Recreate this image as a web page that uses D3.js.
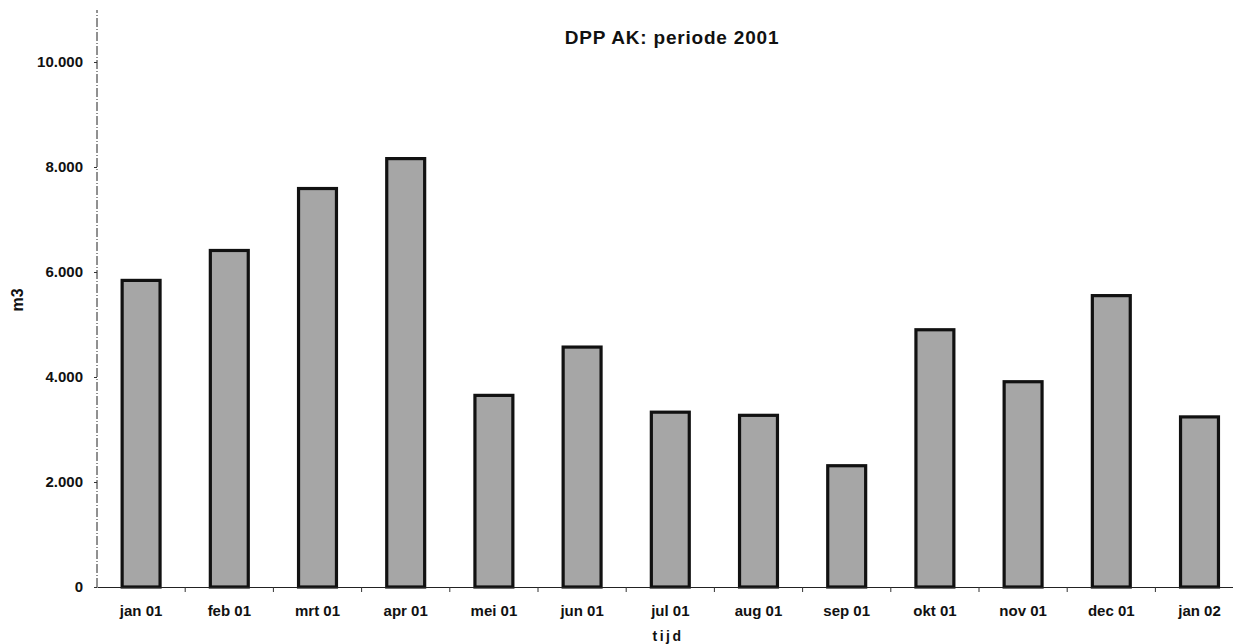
<!DOCTYPE html>
<html>
<head>
<meta charset="utf-8">
<script src="https://cdn.jsdelivr.net/npm/d3@7"></script>
<style>
  body { margin: 0; background: #fff; }
  text { font-family: "Liberation Sans", Arial, sans-serif; fill: #111; }
</style>
</head>
<body>
<div id="div_bar"></div>
<script>
// chart data
var months = ["jan 01", "feb 01", "mrt 01", "apr 01", "mei 01", "jun 01", "jul 01",
              "aug 01", "sep 01", "okt 01", "nov 01", "dec 01", "jan 02"];
var volumes = [5840, 6410, 7590, 8160, 3650, 4570, 3330, 3270, 2310, 4900, 3910, 5550, 3240];
var yTicks = [0, 2000, 4000, 6000, 8000, 10000];
var yTickLabels = ["0", "2.000", "4.000", "6.000", "8.000", "10.000"];

var data = months.map(function(m, i) { return {group: m, value: volumes[i]}; });

// set the dimensions and margins of the graph
var W = 1233, H = 644;
var margin = {top: 62, left: 97, bottom: 57};
var plotBottom = H - margin.bottom;

var svg = d3.select("#div_bar")
  .append("svg")
  .attr("id", "svg_bar")
  .attr("width", W)
  .attr("height", H);

// X axis (runs past the right edge, as in the scan)
var x = d3.scaleBand()
  .range([margin.left, margin.left + 13 * 88.2])
  .domain(months)
  .paddingInner(0.57)
  .paddingOuter(0.285);

// Y axis
var y = d3.scaleLinear()
  .domain([0, 10000])
  .range([plotBottom, margin.top]);

// bars
svg.selectAll("rect.bar")
  .data(data)
  .enter()
  .append("rect")
  .attr("class", "bar")
  .attr("x", function(d) { return x(d.group); })
  .attr("y", function(d) { return y(d.value); })
  .attr("width", x.bandwidth())
  .attr("height", function(d) { return plotBottom - y(d.value); })
  .attr("fill", "#a6a6a6")
  .attr("stroke", "#111")
  .attr("stroke-width", 3.2);

// bottom axis
var xAxis = svg.append("g")
  .attr("transform", "translate(0," + plotBottom + ")")
  .call(d3.axisBottom(x).tickSize(0).tickPadding(18));
xAxis.select(".domain").attr("stroke", "#222").attr("stroke-width", 1.2);
xAxis.selectAll("text")
  .attr("font-size", "15px")
  .attr("font-weight", "bold")
  .attr("fill", "#111");
// small ticks between the categories
xAxis.selectAll("line.sep")
  .data(months.slice(1))
  .enter()
  .append("line")
  .attr("class", "sep")
  .attr("x1", function(d) { return x(d) + x.bandwidth() / 2 - x.step() / 2; })
  .attr("x2", function(d) { return x(d) + x.bandwidth() / 2 - x.step() / 2; })
  .attr("y1", 0)
  .attr("y2", 5)
  .attr("stroke", "#333")
  .attr("stroke-width", 1);

// left axis
var yAxis = svg.append("g")
  .attr("transform", "translate(" + margin.left + ",0)")
  .call(d3.axisLeft(y).tickValues(yTicks)
    .tickFormat(function(d, i) { return yTickLabels[i]; })
    .tickSize(3).tickPadding(11));
yAxis.select(".domain")
  .attr("d", "M0," + plotBottom + "V10")
  .attr("stroke", "#222")
  .attr("stroke-width", 1)
  .attr("stroke-dasharray", "9,2,1,2");
yAxis.selectAll("line").attr("stroke", "#333");
yAxis.selectAll("text")
  .attr("font-size", "15px")
  .attr("font-weight", "bold")
  .attr("fill", "#111");

// title
svg.append("text")
  .attr("x", 672)
  .attr("y", 44)
  .attr("text-anchor", "middle")
  .attr("font-size", "19px")
  .attr("font-weight", "bold")
  .attr("letter-spacing", "0.8px")
  .text("DPP AK: periode 2001");

// axis titles
svg.append("text")
  .attr("x", 668)
  .attr("y", 641)
  .attr("text-anchor", "middle")
  .attr("font-size", "14px")
  .attr("font-weight", "bold")
  .attr("letter-spacing", "2.5px")
  .text("tijd");

svg.append("text")
  .attr("transform", "translate(23,300) rotate(-90)")
  .attr("text-anchor", "middle")
  .attr("font-size", "16px")
  .attr("font-weight", "bold")
  .text("m3");
</script>
</body>
</html>
